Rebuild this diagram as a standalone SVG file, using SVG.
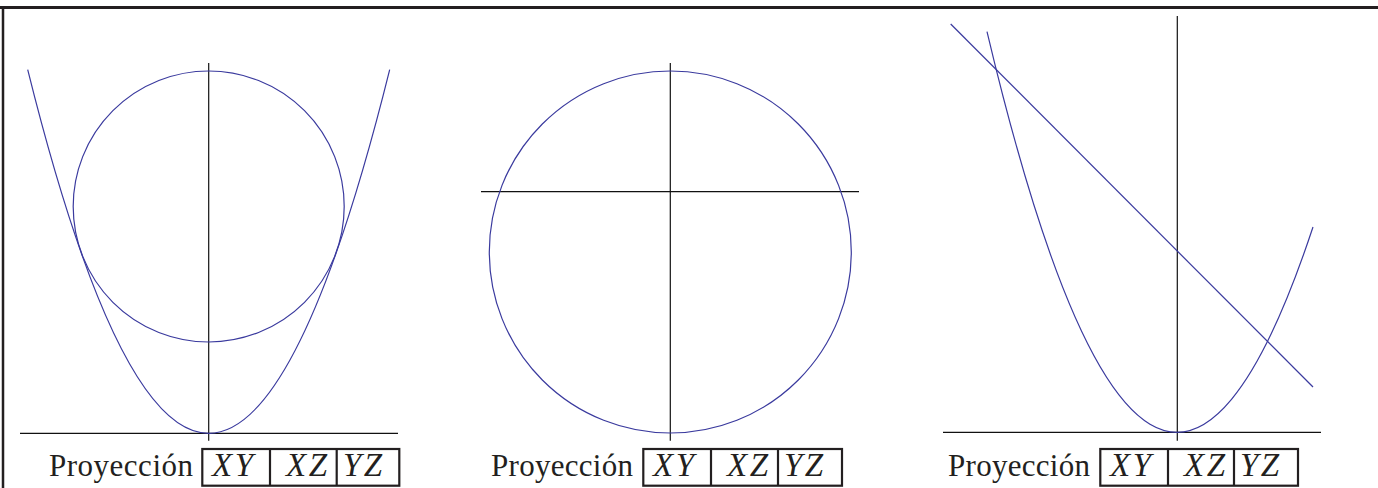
<svg xmlns="http://www.w3.org/2000/svg" width="1378" height="488" viewBox="0 0 1378 488">
<style>
.frame{stroke:#231f20;fill:none}
.axis{stroke:#111;stroke-width:1.2;fill:none}
.curve{stroke:#3a3a9e;stroke-width:1.2;fill:none}
.box{stroke:#231f20;stroke-width:2.2;fill:none}
.lbl{font-family:'Liberation Serif',serif;font-size:31px;fill:#231f20}
.m{font-family:'Liberation Serif',serif;font-style:italic;font-size:33px;letter-spacing:2.5px;fill:#231f20}
</style>
<g id="frame">
<line class="frame" x1="0" y1="7.5" x2="1378" y2="7.5" stroke-width="3"/>
<line class="frame" x1="3" y1="6" x2="3" y2="488" stroke-width="2.5"/>
</g>
<g id="panel1">
<line class="axis" x1="20" y1="433.3" x2="398" y2="433.3"/>
<line class="axis" x1="208.7" y1="63" x2="208.7" y2="440.7"/>
<circle class="curve" cx="208.7" cy="206.5" r="135.5"/>
<path class="curve" d="M27.7,69.7 Q208.7,796.9 389.7,69.7"/>
</g>
<g id="panel2">
<line class="axis" x1="481" y1="191.7" x2="859" y2="191.7"/>
<line class="axis" x1="670.3" y1="63" x2="670.3" y2="440.7"/>
<circle class="curve" cx="670.3" cy="252" r="181"/>
</g>
<g id="panel3">
<line class="axis" x1="943" y1="432.3" x2="1321" y2="432.3"/>
<line class="axis" x1="1177.3" y1="16" x2="1177.3" y2="440.7"/>
<path class="curve" d="M987,31.6 Q1150,719.1 1313,227"/>
<line class="curve" x1="950.7" y1="24" x2="1313" y2="387"/>
</g>
<g id="label1">
<text class="lbl" x="49" y="476" textLength="144" lengthAdjust="spacing">Proyección</text>
<rect class="box" x="202.3" y="449" width="197" height="36.7"/>
<line class="box" x1="270" y1="449" x2="270" y2="485.7"/>
<line class="box" x1="336.7" y1="449" x2="336.7" y2="485.7"/>
<text class="m" x="212" y="476">XY</text>
<text class="m" x="286" y="476">XZ</text>
<text class="m" x="343" y="476">YZ</text>
</g>
<g id="label2">
<text class="lbl" x="491" y="476" textLength="142" lengthAdjust="spacing">Proyección</text>
<rect class="box" x="643.3" y="449" width="198.7" height="36.7"/>
<line class="box" x1="711" y1="449" x2="711" y2="485.7"/>
<line class="box" x1="778" y1="449" x2="778" y2="485.7"/>
<text class="m" x="653" y="476">XY</text>
<text class="m" x="727" y="476">XZ</text>
<text class="m" x="784" y="476">YZ</text>
</g>
<g id="label3">
<text class="lbl" x="948" y="476" textLength="142" lengthAdjust="spacing">Proyección</text>
<rect class="box" x="1100.3" y="449" width="197.7" height="36.7"/>
<line class="box" x1="1168" y1="449" x2="1168" y2="485.7"/>
<line class="box" x1="1234" y1="449" x2="1234" y2="485.7"/>
<text class="m" x="1110" y="476">XY</text>
<text class="m" x="1184" y="476">XZ</text>
<text class="m" x="1240" y="476">YZ</text>
</g>
</svg>
